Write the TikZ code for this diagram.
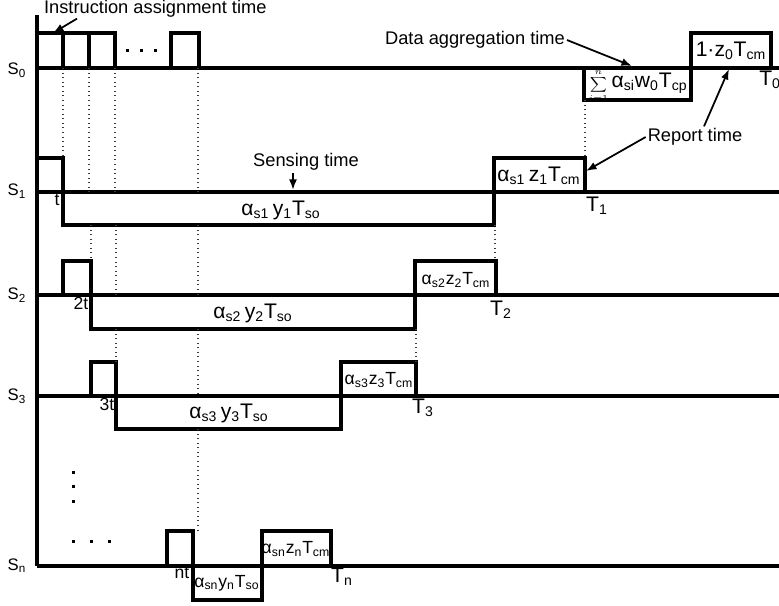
\documentclass[tikz,border=0pt]{standalone}
\usepackage{fontspec}
\setmainfont{Liberation Sans}
\usepackage{amsmath}
\usepackage{tikz}
\usetikzlibrary{arrows.meta, calc}
\definecolor{mydark}{RGB}{0,0,0}
\definecolor{mygray}{RGB}{60,60,60}
\tikzset{
  wave/.style={line width=1.8pt, color=mydark, line join=miter},
  guide/.style={dotted, line width=0.6pt, color=mygray},
  arrow/.style={-{Latex[length=6pt,width=4.5pt]}, line width=1pt, color=mydark},
  note/.style={font=\fontsize{10.4}{12}\selectfont, inner sep=1pt},
  slabel/.style={font=\fontsize{9.5}{10}\selectfont, inner sep=0pt},
  tlabel/.style={font=\fontsize{12}{14}\selectfont, inner sep=0pt},
  tick/.style={font=\fontsize{10}{12}\selectfont, inner sep=0pt},
  boxlabel/.style={font=\fontsize{12}{14}\selectfont, inner sep=0pt},
  tightlabel/.style={font=\fontsize{10}{12}\selectfont, inner sep=0pt},
  dot/.style={fill=mydark}
}
\newcommand{\lo}[1]{\textsubscript{#1}}

\begin{document}
\begin{tikzpicture}[x=0.02cm, y=-0.02cm]
  \useasboundingbox (0,0) rectangle (779,606);

  % --- AXIS AND BASELINES ---
  \draw[wave] (37,15) -- (37,566);
  \draw[wave] (37,68) -- (779,68);
  \draw[wave] (37,192) -- (779,192);
  \draw[wave] (37,295) -- (779,295);
  \draw[wave] (37,396) -- (779,396);
  \draw[wave] (37,566) -- (779,566);

  \node[slabel] (s0) at (17,70) {S\lo{0}};
  \node[slabel] (s1) at (17,191) {S\lo{1}};
  \node[slabel] (s2) at (17,295) {S\lo{2}};
  \node[slabel] (s3) at (17,396) {S\lo{3}};
  \node[slabel] (sn) at (17,566) {S\lo{n}};

  % --- SINK S0 ---
  \foreach \xa/\xb in {37/63, 63/89, 89/115, 171/199}
    \draw[wave] (\xa,33) rectangle (\xb,68);
  \foreach \xd in {127,141,155}
    \fill[dot] (\xd-1.5,49) rectangle (\xd+1.5,52);
  \draw[wave] (584,68) rectangle (691,100);
  \draw[wave] (691,33) rectangle (771,68);
  \node[boxlabel] (agg) at (638,86) {{\fontsize{6}{7}\selectfont$\displaystyle\sum_{i=1}^{n}$}\,α\lo{si}w\lo{0}T\lo{cp}};
  \node[boxlabel] (rep0) at (731,51) {1·z\lo{0}T\lo{cm}};
  \node[tlabel, anchor=west] (t0) at (759,80) {T\lo{0}};

  % --- SENSOR S1 ---
  \draw[wave] (37,192) -- (37,158) -- (63,158) -- (63,225) -- (494,225)
    -- (494,158) -- (585,158) -- (585,192);
  \node[tick] (tk1) at (57,200) {t};
  \node[boxlabel] (sense1) at (281,210) {α\lo{s1}\,y\lo{1}T\lo{so}};
  \node[boxlabel] (rep1) at (539,176) {α\lo{s1}\,z\lo{1}T\lo{cm}};
  \node[tlabel] (t1) at (597,206) {T\lo{1}};

  % --- SENSOR S2 ---
  \draw[wave] (63,295) -- (63,261) -- (91,261) -- (91,329) -- (415,329)
    -- (415,261) -- (496,261) -- (496,295);
  \node[tick] (tk2) at (81,303) {2t};
  \node[boxlabel] (sense2) at (253,313) {α\lo{s2}\,y\lo{2}T\lo{so}};
  \node[tightlabel] (rep2) at (456,280) {α\lo{s2}z\lo{2}T\lo{cm}};
  \node[tlabel] (t2) at (501,310) {T\lo{2}};

  % --- SENSOR S3 ---
  \draw[wave] (91,396) -- (91,362) -- (116,362) -- (116,429) -- (341,429)
    -- (341,362) -- (416,362) -- (416,396);
  \node[tick] (tk3) at (107,404) {3t};
  \node[boxlabel] (sense3) at (229,413) {α\lo{s3}\,y\lo{3}T\lo{so}};
  \node[tightlabel] (rep3) at (379,380) {α\lo{s3}z\lo{3}T\lo{cm}};
  \node[tlabel] (t3) at (423,408) {T\lo{3}};

  % --- SENSOR Sn ---
  \foreach \yd in {472,486,501}
    \fill[dot] (71.5,\yd-1.5) rectangle (74.5,\yd+1.5);
  \foreach \xd in {73,91,109}
    \fill[dot] (\xd-1.5,539.5) rectangle (\xd+1.5,542.5);
  \draw[wave] (167,566) -- (167,531) -- (193,531) -- (193,600) -- (262,600)
    -- (262,531) -- (331,531) -- (331,566);
  \node[tick] (tkn) at (182,573) {nt};
  \node[tightlabel] (sensen) at (227,583) {α\lo{sn}y\lo{n}T\lo{so}};
  \node[tightlabel] (repn) at (296,549) {α\lo{sn}z\lo{n}T\lo{cm}};
  \node[tlabel] (tn) at (342,577) {T\lo{n}};

  % --- DOTTED GUIDES ---
  \draw[guide] (63,68) -- (63,158);
  \draw[guide] (89,68) -- (89,192);
  \draw[guide] (91,225) -- (91,261);
  \draw[guide] (115,68) -- (115,192);
  \draw[guide] (116,225) -- (116,295);
  \draw[guide] (116,329) -- (116,362);
  \draw[guide] (198,68) -- (198,192);
  \draw[guide] (198,225) -- (198,295);
  \draw[guide] (198,329) -- (198,396);
  \draw[guide] (198,429) -- (198,531);
  \draw[guide] (585,100) -- (585,158);
  \draw[guide] (495,225) -- (495,261);
  \draw[guide] (416,329) -- (416,362);

  % --- ANNOTATIONS ---
  \node[note, anchor=west] (instr) at (42,9) {Instruction assignment time};
  \coordinate (instrtip) at (53,33);
  \draw[arrow] ($(instr.south west)+(35,-1)$) -- (instrtip);

  \node[note] (aggnote) at (475,40) {Data aggregation time};
  \coordinate (aggtip) at (632,66);
  \draw[arrow] (aggnote.east) -- (aggtip);

  \node[note] (sensenote) at (306,162) {Sensing time};
  \coordinate (sensetip) at (293,190);
  \draw[arrow] (sensenote.south -| sensetip) -- (sensetip);

  \node[note] (repnote) at (695,137) {Report time};
  \coordinate (reptip0) at (729,69);
  \coordinate (reptip1) at (586,171);
  \draw[arrow] ($(repnote.north)+(9,0)$) -- (reptip0);
  \draw[arrow] (repnote.west) -- (reptip1);
\end{tikzpicture}
\end{document}
